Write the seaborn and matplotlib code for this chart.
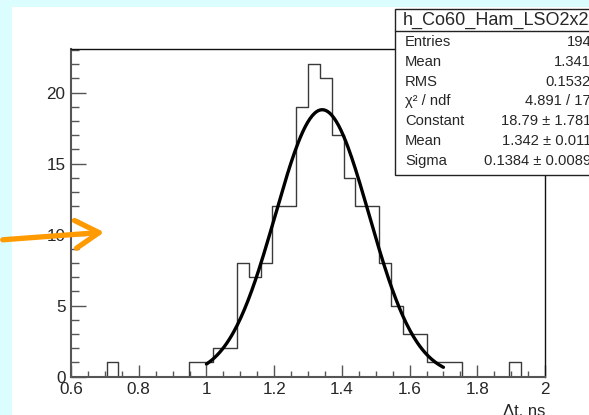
import numpy as np
import pandas as pd
import matplotlib
matplotlib.use("Agg")
import matplotlib.pyplot as plt
import seaborn as sns
from matplotlib.patches import Rectangle, FancyArrowPatch
from matplotlib.ticker import MultipleLocator

# ---- data ----
bin_edges = [round(0.6 + 0.035 * i, 4) for i in range(41)]
counts = [0, 0, 0, 1, 0, 0, 0, 0, 0, 0,
          1, 1, 2, 2, 8, 7, 8, 12, 12, 19,
          22, 21, 17, 14, 12, 12, 8, 5, 3, 3,
          1, 1, 1, 0, 0, 0, 0, 1, 0, 0]
bin_centers = [(a + b) / 2 for a, b in zip(bin_edges[:-1], bin_edges[1:])]

fit_constant = 18.79
fit_mean = 1.342
fit_sigma = 0.1384
fit_range = (1.0, 1.7)

stat_title = "h_Co60_Ham_LSO2x2"
stat_labels = ["Entries", "Mean", "RMS", "χ² / ndf", "Constant", "Mean", "Sigma"]
stat_values = ["194", "1.341", "0.1532", "4.891 / 17", "18.79 ± 1.781",
               "1.342 ± 0.011", "0.1384 ± 0.0089"]

x_ticks = [0.6, 0.8, 1.0, 1.2, 1.4, 1.6, 1.8, 2.0]
x_ticklabels = ["0.6", "0.8", "1", "1.2", "1.4", "1.6", "1.8", "2"]
y_ticks = [0, 5, 10, 15, 20]
x_label = "Δt, ns"

# ---- figure ----
sns.set_theme(style="white")
plt.rcParams["font.family"] = ["Liberation Sans", "DejaVu Sans"]

W, H = 589, 415
fig = plt.figure(figsize=(W / 100, H / 100), dpi=100)
fig.patch.set_facecolor("#dcfdfd")
fig.patches.append(Rectangle((12 / W, 0), 1 - 12 / W, (H - 7) / H,
                             transform=fig.transFigure, facecolor="white",
                             edgecolor="none", zorder=-10))

ax = fig.add_axes([71 / W, (H - 376.7) / H, (545 - 71) / W, (376.7 - 48.5) / H])
ax.set_zorder(1)
ax.set_facecolor("white")

df = pd.DataFrame({"x": bin_centers, "w": counts})
sns.histplot(data=df, x="x", weights="w", bins=bin_edges, element="step",
             fill=False, color="#3a3a3a", linewidth=1.0, ax=ax)

xf = np.linspace(fit_range[0], fit_range[1], 200)
yf = fit_constant * np.exp(-0.5 * ((xf - fit_mean) / fit_sigma) ** 2)
sns.lineplot(x=xf, y=yf, color="black", linewidth=2.4, ax=ax)

ax.set_xlim(0.6, 2.0)
ax.set_ylim(0, 23.1)
ax.set_xticks(x_ticks)
ax.set_xticklabels(x_ticklabels)
ax.set_yticks(y_ticks)
ax.xaxis.set_minor_locator(MultipleLocator(0.05))
ax.yaxis.set_minor_locator(MultipleLocator(1))
ax.tick_params(axis="x", which="major", direction="in", length=8.5, width=1.0,
               color="#555555", labelsize=12.3, pad=4, bottom=True, top=False)
ax.tick_params(axis="x", which="minor", direction="in", length=4, width=1.0,
               color="#555555", bottom=True, top=False)
ax.tick_params(axis="y", which="major", direction="in", length=11, width=1.0,
               color="#555555", labelsize=12.3, pad=4, left=True, right=False)
ax.tick_params(axis="y", which="minor", direction="in", length=6, width=1.0,
               color="#555555", left=True, right=False)
ax.set_xlabel("")
ax.set_ylabel("")
for s in ["left", "bottom"]:
    ax.spines[s].set_color("#555555")
    ax.spines[s].set_linewidth(1.5)
for s in ["top", "right"]:
    ax.spines[s].set_color("#111111")
    ax.spines[s].set_linewidth(1.0)

fig.text(545 / W, (H - 404) / H, x_label, ha="right", va="top", fontsize=12)

# ---- stats box ----
bx0, by0, by1 = 395, 9.5, 175.5
fig.patches.append(Rectangle((bx0 / W, (H - by1) / H), (W + 40 - bx0) / W, (by1 - by0) / H,
                             transform=fig.transFigure, facecolor="white",
                             edgecolor="#222222", linewidth=1.0, zorder=5))
fig.lines.append(plt.Line2D([bx0 / W, 1.05], [(H - 31) / H, (H - 31) / H],
                            transform=fig.transFigure, color="#222222",
                            linewidth=1.0, zorder=6))
fig.text(403 / W, (H - 20.5) / H, stat_title, ha="left", va="center",
         fontsize=13, zorder=7)
row_y = [41.5, 61.5, 81.5, 100.5, 121, 141, 161]
for lab, val, yy in zip(stat_labels, stat_values, row_y):
    fig.text(405 / W, (H - yy) / H, lab, ha="left", va="center", fontsize=10.6, zorder=7)
    fig.text(591 / W, (H - yy) / H, val, ha="right", va="center", fontsize=10.6, zorder=7)

# ---- orange arrow ----
arrow = FancyArrowPatch((0 / W, (H - 240) / H), (107 / W, (H - 232) / H),
                        transform=fig.transFigure,
                        arrowstyle="->,head_length=0.85,head_width=0.5",
                        mutation_scale=20, color="#ff9a00", linewidth=3.8,
                        capstyle="round", joinstyle="round", zorder=10)
fig.patches.append(arrow)

fig.savefig("out.png", dpi=100)
